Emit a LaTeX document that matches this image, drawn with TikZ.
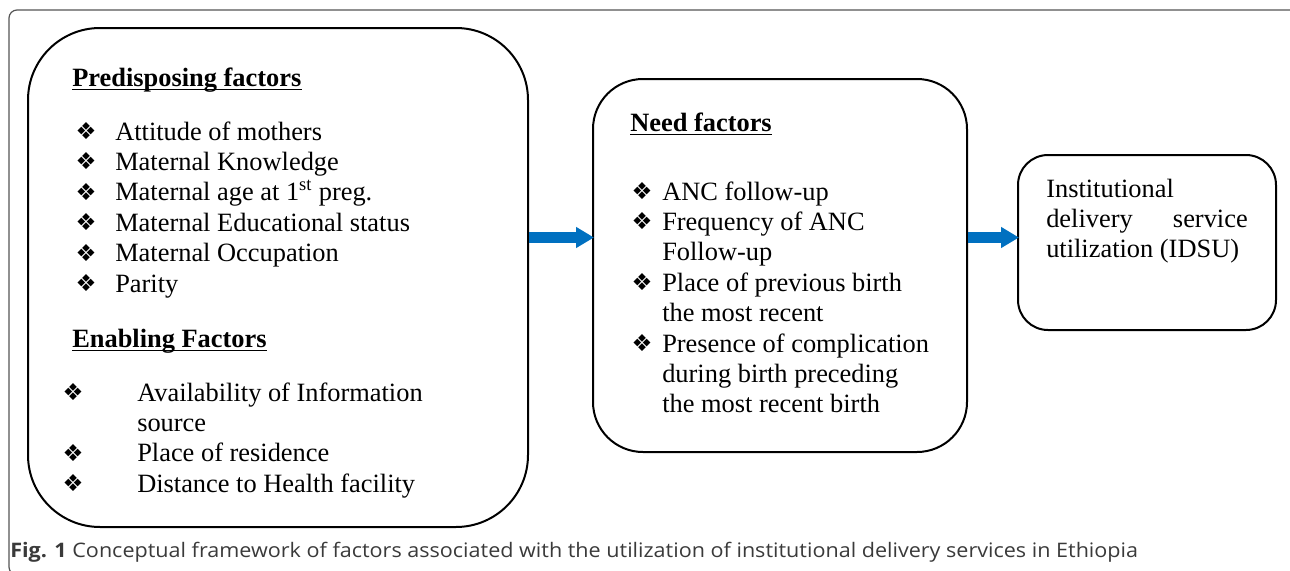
\documentclass[tikz,border=0pt]{standalone}
\usepackage{fontspec}
\setmainfont{Liberation Serif}
\newfontfamily\symfont{DejaVu Sans}
\newfontfamily\capfont[FakeStretch=1.078]{Open Sans}
\usetikzlibrary{arrows.meta}
\definecolor{arrblue}{HTML}{0070C0}
\definecolor{framegray}{HTML}{555555}
\definecolor{capgray}{HTML}{3A3A3A}
\tikzset{
  box/.style={draw=black, line width=1.5pt, inner sep=0pt},
  txt/.style={anchor=base west, inner sep=0pt, font=\fontsize{19.8pt}{22.5pt}\selectfont},
  hd/.style={anchor=base west, inner sep=0pt, font=\fontsize{19.8pt}{22.5pt}\selectfont\bfseries},
  bul/.style={anchor=center, inner sep=0pt, font=\symfont\fontsize{17.5pt}{18pt}\selectfont},
  uline/.style={line width=1.4pt},
  arr/.style={draw=arrblue, line width=7.9pt, -{Triangle[length=13.5pt,width=15pt]}},
}
\begin{document}
\begin{tikzpicture}[x=0.75pt,y=-0.75pt]
\useasboundingbox (0,0) rectangle (1290,571);
\begin{scope}
\clip (0,0) rectangle (1290,571);
\draw[framegray, line width=0.9pt, rounded corners=6pt] (9,10) rectangle (1300,575);
\end{scope}

% boxes
\node[box, rounded corners=54pt, minimum width=375pt, minimum height=374.25pt] (b1) at (278,277.5) {};
\node[box, rounded corners=37.5pt, minimum width=280.5pt, minimum height=279.75pt] (b2) at (780,265.5) {};
\node[box, rounded corners=22.5pt, minimum width=193.5pt, minimum height=131.25pt] (b3) at (1147,242.5) {};

% arrows
\coordinate (ay) at (0,237.5);
\draw[arr] (b1.east |- ay) -- ([xshift=1.5pt]b2.west |- ay);
\draw[arr] (b2.east |- ay) -- ([xshift=1.5pt]b3.west |- ay);

% Predisposing factors
\node[hd] (hp) at (72,86) {Predisposing factors};
\draw[uline] ([yshift=-2.6pt]hp.base west) -- ([yshift=-2.6pt]hp.base east);
\node[bul] (pb1) at (86,131) {❖};
\node[txt] (p1) at (115,140) {Attitude of mothers};
\node[bul] (pb2) at (86,161.4) {❖};
\node[txt] (p2) at (115,170.4) {Maternal Knowledge};
\node[bul] (pb3) at (86,191.8) {❖};
\node[txt] (p3) at (115,200.8) {Maternal age at 1\textsuperscript{st} preg.};
\node[bul] (pb4) at (86,222.2) {❖};
\node[txt] (p4) at (115,231.2) {Maternal Educational status};
\node[bul] (pb5) at (86,252.6) {❖};
\node[txt] (p5) at (115,261.6) {Maternal Occupation};
\node[bul] (pb6) at (86,283) {❖};
\node[txt] (p6) at (115,292) {Parity};

% Enabling factors
\node[hd] (he) at (72,347) {Enabling Factors};
\draw[uline] ([yshift=-2.6pt]he.base west) -- ([yshift=-2.6pt]he.base east);
\node[bul] (eb1) at (73,392) {❖};
\node[txt] (e1) at (137,401) {Availability of Information};
\node[txt] (e1b) at (137,431.4) {source};
\node[bul] (eb2) at (73,452.8) {❖};
\node[txt] (e2) at (137,461.8) {Place of residence};
\node[bul] (eb3) at (73,483.2) {❖};
\node[txt] (e3) at (137,492.2) {Distance to Health facility};

% Need factors
\node[hd] (hn) at (630,131) {Need factors};
\draw[uline] ([yshift=-2.6pt]hn.base west) -- ([yshift=-2.6pt]hn.base east);
\node[bul] (nb1) at (642,191) {❖};
\node[txt] (n1) at (662,200) {ANC follow-up};
\node[bul] (nb2) at (642,221.4) {❖};
\node[txt] (n2) at (662,230.4) {Frequency of ANC};
\node[txt] (n2b) at (662,260.8) {Follow-up};
\node[bul] (nb3) at (642,282.2) {❖};
\node[txt] (n3) at (662,291.2) {Place of previous birth};
\node[txt] (n3b) at (662,321.6) {the most recent};
\node[bul] (nb4) at (642,343) {❖};
\node[txt] (n4) at (662,352) {Presence of complication};
\node[txt] (n4b) at (662,382.4) {during birth preceding};
\node[txt] (n4c) at (662,412.8) {the most recent birth};

% Outcome
\node[txt] (o1) at (1046,197) {Institutional};
\node[txt] (o2) at (1046,227.4) {delivery};
\node[txt, anchor=base east] (o2b) at (1248,227.4) {service};
\node[txt] (o3) at (1046,257.8) {utilization (IDSU)};

% caption
\node[anchor=base west, inner sep=0pt, text=capgray, font=\capfont\fontsize{15pt}{17pt}\selectfont] (cap) at (10,557)
  {\textbf{Fig. 1} Conceptual framework of factors associated with the utilization of institutional delivery services in Ethiopia};
\end{tikzpicture}
\end{document}
